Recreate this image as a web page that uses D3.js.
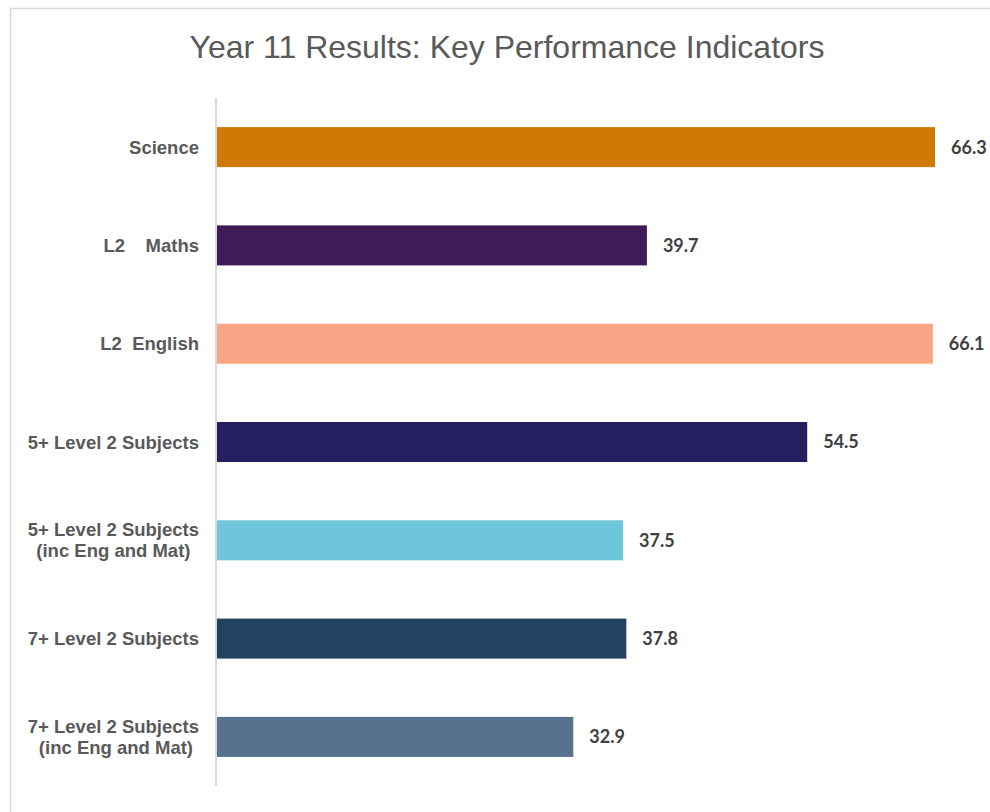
<!DOCTYPE html>
<html>
<head>
<meta charset="utf-8">
<script src="https://cdn.jsdelivr.net/npm/d3@7"></script>
<style>
  body { margin: 0; background: #fff; }
  svg { display: block; }
</style>
</head>
<body>
<svg id="chart" width="990" height="812"></svg>
<script>
const categories = [
  ['Science'],
  ['L2    Maths'],
  ['L2  English'],
  ['5+ Level 2 Subjects'],
  ['5+ Level 2 Subjects', '(inc Eng and Mat)'],
  ['7+ Level 2 Subjects'],
  ['7+ Level 2 Subjects', ' (inc Eng and Mat)']
];
const values = [66.3, 39.7, 66.1, 54.5, 37.5, 37.8, 32.9];
const colors = ['#d07a06', '#3e1c57', '#f8a585', '#261f5f', '#6fc5da', '#21435f', '#56728f'];
const title = 'Year 11 Results: Key Performance Indicators';

const svg = d3.select('#chart');
const keys = categories.map((c, i) => i);

// chart frame (only top and left edges are visible in the crop)
svg.append('path')
  .attr('d', 'M10.5,812V8.5H990')
  .attr('fill', 'none')
  .attr('stroke', '#d9d9d9')
  .attr('stroke-width', 1.5);

svg.append('text')
  .attr('x', 507)
  .attr('y', 58)
  .attr('text-anchor', 'middle')
  .attr('font-family', 'Liberation Sans, Arial, sans-serif')
  .attr('font-size', 32)
  .attr('fill', '#595959')
  .text(title);

const x = d3.scaleLinear().domain([0, 66.3]).range([217, 935]);
const y = d3.scaleBand().domain(keys).range([98, 786]).paddingInner(0.593).paddingOuter(0.296);

svg.append('g')
  .selectAll('rect')
  .data(values)
  .join('rect')
  .attr('x', x(0))
  .attr('y', (d, i) => y(i))
  .attr('width', d => x(d) - x(0))
  .attr('height', y.bandwidth())
  .attr('fill', (d, i) => colors[i]);

// axis line
svg.append('line')
  .attr('x1', 216).attr('x2', 216)
  .attr('y1', 98).attr('y2', 786)
  .attr('stroke', '#d9d9d9')
  .attr('stroke-width', 2);

svg.append('g')
  .selectAll('text')
  .data(values)
  .join('text')
  .attr('x', d => x(d) + 16)
  .attr('y', (d, i) => y(i) + y.bandwidth() / 2)
  .attr('dy', '0.36em')
  .attr('font-family', 'Lato, sans-serif')
  .attr('font-weight', 700)
  .attr('font-size', 18)
  .attr('fill', '#404040')
  .text(d => d3.format('.1f')(d));

// category labels: block right-aligned at 199, lines centred within the block
const labels = svg.append('g')
  .selectAll('text')
  .data(categories)
  .join('text')
  .attr('text-anchor', 'middle')
  .attr('font-family', 'Liberation Sans, Arial, sans-serif')
  .attr('font-weight', 700)
  .attr('font-size', 18.5)
  .attr('fill', '#595959')
  .style('white-space', 'pre');

labels.each(function (lines, i) {
  const cy = y(i) + y.bandwidth() / 2;
  const lh = 21;
  const top = cy - (lines.length - 1) * lh / 2;
  const spans = d3.select(this).selectAll('tspan')
    .data(lines)
    .join('tspan')
    .attr('y', (d, j) => top + j * lh)
    .attr('dy', '0.36em')
    .text(d => d);
  let w = 0;
  spans.each(function () { w = Math.max(w, this.getComputedTextLength()); });
  spans.attr('x', 199 - w / 2);
});
</script>
</body>
</html>
